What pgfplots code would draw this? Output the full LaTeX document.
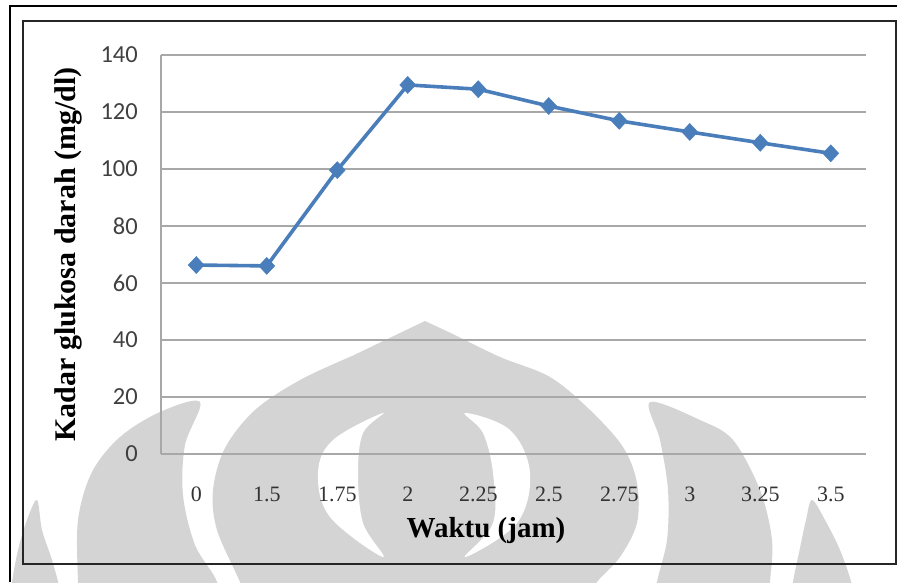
\documentclass[border=0pt]{standalone}
\usepackage{fontspec}
\setmainfont{Liberation Serif}
\newfontfamily\carlito{Carlito}
\usepackage{pgfplots}
\pgfplotsset{compat=1.18}
\definecolor{lineblue}{HTML}{4A7EBB}
\definecolor{wm}{HTML}{D4D4D4}
\definecolor{gridgray}{HTML}{A8A8A8}
\begin{document}
\begin{tikzpicture}[x=1pt,y=1pt]
\useasboundingbox (0,0) rectangle (897,582);
\begin{scope}[yshift=582pt,yscale=-1]
\clip (0,0) rectangle (897,582);
% watermark (decoration)
\fill[wm] (425,321) -- plot[smooth, tension=0.55] coordinates {(352,356) (300,380) (255,410) (225,448) (213,490) (217,530) (240,582) (250,610)} -- plot[smooth, tension=0.55] coordinates {(580,610) (597,582) (620,557) (637,523) (637,483) (623,447) (590,410) (550,377) (500,357) (455,335)} -- cycle;
\fill[white] plot[smooth cycle, tension=0.6] coordinates {(383,413) (333,440) (318,473) (330,517) (383,557) (363,523) (358,473) (363,433)};
\fill[white] plot[smooth cycle, tension=0.6] coordinates {(465,413) (510,430) (530,473) (517,523) (465,557) (493,523) (493,473) (483,433)};
\fill[wm] plot[smooth cycle, tension=0.55] coordinates {(200,402) (160,412) (120,437) (92,472) (78,520) (78,582) (80,610) (215,610) (217,582) (195,545) (183,495) (185,445)};
\fill[wm] plot[smooth cycle, tension=0.55] coordinates {(37,500) (42,530) (52,560) (60,590) (62,610) (8,610) (12,582) (18,550) (27,520)};
\fill[wm] plot[smooth cycle, tension=0.55] coordinates {(650,402) (700,420) (733,440) (760,490) (772,540) (770,582) (768,610) (655,610) (657,582) (667,540) (668,490) (660,440)};
\fill[wm] plot[smooth cycle, tension=0.55] coordinates {(812,500) (825,520) (840,550) (852,585) (855,610) (790,610) (793,582) (800,548) (806,520)};
% frames
\draw[line width=1.5pt] (10,582) -- (10,6) -- (897,6);
\draw[line width=2pt, black!85] (23,21) rectangle (896,564);
\end{scope}
\begin{axis}[
  at={(161pt,128pt)}, anchor=south west, scale only axis,
  width=705pt, height=399pt,
  xmin=-0.5, xmax=9.5, ymin=0, ymax=140,
  ytick={0,20,...,140},
  xtick={0,...,9},
  xticklabels={0,1.5,1.75,2,2.25,2.5,2.75,3,3.25,3.5},
  axis x line*=bottom, axis y line*=left,
  axis line style={gridgray, line width=1.3pt},
  ymajorgrids, grid style={gridgray, line width=1.3pt},
  major tick length=0pt,
  /pgf/number format/assume math mode=true,
  yticklabel style={font=\carlito\fontsize{24.5}{24.5}\selectfont, text=black!75, anchor=east, inner sep=0pt, xshift=-23pt},
  xticklabel style={font=\fontsize{22}{22}\selectfont, text=black!80, anchor=north, inner sep=0pt, yshift=-33pt},
  every axis x label/.style={at={(axis description cs:0.461,-0.193)}, anchor=center},
  every axis y label/.style={at={(axis description cs:-0.132,0.5)}, rotate=90, anchor=center},
  xlabel={\fontsize{29}{29}\selectfont\bfseries Waktu (jam)},
  ylabel={\fontsize{30}{30}\selectfont\bfseries Kadar glukosa darah (mg/dl)},
]
\addplot[lineblue, line width=3.6pt, mark=diamond*, mark size=8.5pt, mark options={xscale=1.25, line width=0.5pt, fill=lineblue}]
coordinates {(0,66.3) (1,66.0) (2,99.6) (3,129.5) (4,128.0) (5,122.1) (6,116.9) (7,113.0) (8,109.2) (9,105.5)};
\end{axis}
\end{tikzpicture}
\end{document}
